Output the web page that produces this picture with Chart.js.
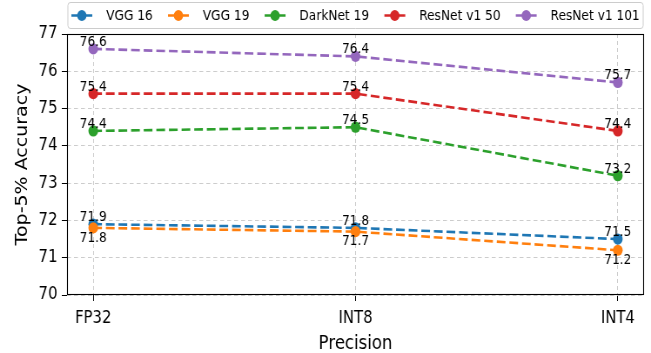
<!DOCTYPE html>
<html>
<head>
<meta charset="utf-8">
<script src="https://cdn.jsdelivr.net/npm/chart.js@4"></script>
<style>
  html, body { margin: 0; padding: 0; background: #fff; }
  #wrap { width: 651px; height: 353px; overflow: hidden; }
  /* the reference figure is squeezed horizontally, so draw wider and scale down */
  #accChart { width: 651px; height: 353px; }
</style>
</head>
<body>
<div id="wrap"><canvas id="accChart" width="748" height="353" style="width:651px;height:353px"></canvas></div>
<script>
// values
var categories = ["FP32", "INT8", "INT4"];
var seriesNames = ["VGG 16", "VGG 19", "DarkNet 19", "ResNet v1 50", "ResNet v1 101"];
var vgg16 = [71.9, 71.8, 71.5];
var vgg19 = [71.8, 71.7, 71.2];
var darknet19 = [74.4, 74.5, 73.2];
var resnet50 = [75.4, 75.4, 74.4];
var resnet101 = [76.6, 76.4, 75.7];
var yTicks = [70, 71, 72, 73, 74, 75, 76, 77];

var colors = ["#1f77b4", "#ff7f0e", "#2ca02c", "#d62728", "#9467bd"];
var allSeries = [vgg16, vgg19, darknet19, resnet50, resnet101];
var FONT = "'DejaVu Sans', sans-serif";

var datasets = allSeries.map(function(vals, i) {
    return {
        label: seriesNames[i],
        data: vals.map(function(v, j) { return { x: j, y: v }; }),
        borderColor: colors[i],
        backgroundColor: colors[i],
        borderWidth: 2.6,
        borderDash: [10, 4.5],
        pointRadius: 5.6,
        pointBorderWidth: 0,
        pointBackgroundColor: colors[i],
        fill: false,
        tension: 0,
        order: -i
    };
});

// value labels next to each point
var valueLabels = {
    id: "valueLabels",
    afterDatasetsDraw: function(chart) {
        var ctx = chart.ctx;
        ctx.save();
        ctx.font = "14px " + FONT;
        ctx.fillStyle = "#000";
        ctx.textAlign = "center";
        chart.data.datasets.forEach(function(ds, i) {
            var meta = chart.getDatasetMeta(i);
            meta.data.forEach(function(pt, j) {
                var below = (i === 1);
                ctx.textBaseline = below ? "top" : "alphabetic";
                ctx.fillText(ds.data[j].y.toFixed(1), pt.x, below ? pt.y + 3 : pt.y - 3);
            });
        });
        ctx.restore();
    }
};

// axes frame + matplotlib style legend box
var frameAndLegend = {
    id: "frameAndLegend",
    afterDraw: function(chart) {
        var ctx = chart.ctx;
        var a = chart.chartArea;
        ctx.save();
        ctx.strokeStyle = "#000";
        ctx.lineWidth = 1.1;
        ctx.setLineDash([]);
        ctx.strokeRect(Math.round(a.left) + 0.5, Math.round(a.top) + 0.5,
            Math.round(a.right - a.left) - 1, Math.round(a.bottom - a.top) - 1);

        ctx.font = "14px " + FONT;
        var handle = 24, textGap = 16, colGap = 17.5, pad = 4;
        var widths = seriesNames.map(function(n) { return ctx.measureText(n).width; });
        var total = pad * 2;
        widths.forEach(function(w, i) { total += handle + textGap + w + (i < widths.length - 1 ? colGap : 0); });
        var cx = (a.left + a.right) / 2;
        var bx = cx - total / 2, by = 2.5, bh = 26;
        ctx.fillStyle = "rgba(255,255,255,0.85)";
        ctx.strokeStyle = "#cccccc";
        ctx.lineWidth = 1;
        ctx.beginPath();
        ctx.roundRect(bx, by, total, bh, 3);
        ctx.fill();
        ctx.stroke();

        var x = bx + pad, cy = by + bh / 2;
        seriesNames.forEach(function(n, i) {
            ctx.strokeStyle = colors[i];
            ctx.lineWidth = 2.6;
            ctx.setLineDash([10, 4.5]);
            ctx.beginPath();
            ctx.moveTo(x, cy);
            ctx.lineTo(x + handle, cy);
            ctx.stroke();
            ctx.setLineDash([]);
            ctx.fillStyle = colors[i];
            ctx.beginPath();
            ctx.arc(x + handle / 2, cy, 5.4, 0, Math.PI * 2);
            ctx.fill();
            ctx.fillStyle = "#000";
            ctx.textAlign = "left";
            ctx.textBaseline = "middle";
            ctx.fillText(n, x + handle + textGap, cy + 1);
            x += handle + textGap + widths[i] + colGap;
        });
        ctx.restore();
    }
};

var ctx = document.getElementById("accChart").getContext("2d");

var gridOpts = {
    color: "#cccccc",
    tickColor: "#000",
    tickLength: 6,
    tickWidth: 1,
    tickBorderDash: []
};

var options = {
    responsive: false,
    animation: false,
    layout: { padding: { left: 0, right: 8, top: 34, bottom: 0 } },
    plugins: {
        legend: { display: false },
        tooltip: { enabled: false }
    },
    scales: {
        x: {
            type: "linear",
            min: -0.1,
            max: 2.1,
            afterBuildTicks: function(scale) {
                scale.ticks = categories.map(function(c, i) { return { value: i }; });
            },
            afterFit: function(scale) { scale.height = 58; },
            ticks: {
                callback: function(v) { return categories[v]; },
                color: "#000",
                font: { family: FONT, size: 17 },
                padding: 7,
                maxRotation: 0
            },
            grid: gridOpts,
            border: { display: false, dash: [4, 3] },
            title: {
                display: true,
                text: "Precision",
                color: "#000",
                font: { family: FONT, size: 19, lineHeight: 0.9 },
                padding: { top: 0, bottom: 0 }
            }
        },
        y: {
            min: 70,
            max: 77,
            afterBuildTicks: function(scale) {
                scale.ticks = yTicks.map(function(v) { return { value: v }; });
            },
            afterFit: function(scale) { scale.width = 77; },
            ticks: {
                color: "#000",
                font: { family: FONT, size: 17 },
                padding: 5
            },
            grid: gridOpts,
            border: { display: false, dash: [4.5, 3.5] },
            title: {
                display: true,
                text: "Top-5% Accuracy",
                color: "#000",
                font: { family: FONT, size: 19 },
                padding: { top: 14.5, bottom: 0 }
            }
        }
    }
};

var accChart = new Chart(ctx, {
    type: "line",
    data: { datasets: datasets },
    options: options,
    plugins: [valueLabels, frameAndLegend]
});
</script>
</body>
</html>
